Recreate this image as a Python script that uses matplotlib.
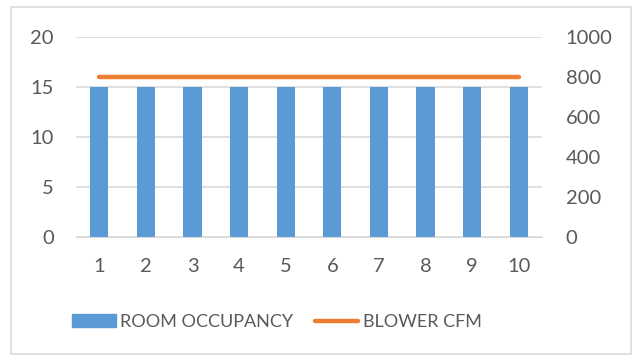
import matplotlib.pyplot as plt
from matplotlib.patches import Rectangle
from matplotlib.lines import Line2D
from matplotlib.patches import Patch

plt.rcParams['font.family'] = ['Lato', 'DejaVu Sans']

# data
hours = [1, 2, 3, 4, 5, 6, 7, 8, 9, 10]
occupancy = [15, 15, 15, 15, 15, 15, 15, 15, 15, 15]
blower_cfm = [800, 800, 800, 800, 800, 800, 800, 800, 800, 800]
left_ticks = [0, 5, 10, 15, 20]
right_ticks = [0, 200, 400, 600, 800, 1000]

blue = '#5b9bd5'
orange = '#ed7d31'
txt = '#595959'
grid = '#d9d9d9'

fig = plt.figure(figsize=(6.37, 3.58), dpi=100)
ax = fig.add_axes([76 / 637, 1 - 237 / 358, 466 / 637, 200 / 358])
ax2 = ax.twinx()

x = list(range(len(hours)))
ax.bar(x, occupancy, width=0.39, color=blue, zorder=2)
ax2.plot(x, blower_cfm, color=orange, lw=3.2, solid_capstyle='round', zorder=3)

ax.set_xlim(-0.5, len(hours) - 0.5)
ax.set_ylim(0, 20)
ax2.set_ylim(0, 1000)
ax.set_yticks(left_ticks)
ax2.set_yticks(right_ticks)
ax.set_xticks(x)
ax.set_xticklabels([str(h) for h in hours])

for a in (ax, ax2):
    for s in a.spines.values():
        s.set_visible(False)
    a.tick_params(length=0, labelsize=14.5, colors=txt)
ax.spines['bottom'].set_visible(True)
ax.spines['bottom'].set_color(grid)
ax.tick_params(axis='y', pad=16)
ax.tick_params(axis='x', pad=15)
ax2.tick_params(axis='y', pad=17)
ax.yaxis.grid(True, color=grid, lw=1.2, zorder=0)
ax.set_axisbelow(True)
ax.set_zorder(ax2.get_zorder() - 1)
ax.patch.set_visible(False)

handles = [Patch(color=blue), Line2D([0], [0], color=orange, lw=3.2, solid_capstyle='round')]
fig.legend(handles, ['ROOM OCCUPANCY', 'BLOWER CFM'], loc='center left', bbox_to_anchor=(56 / 637, 1 - 322 / 358),
           ncol=2, frameon=False, fontsize=13, labelcolor=txt, handlelength=2.4, handletextpad=0.25,
           columnspacing=1.2)

fig.patches.append(Rectangle((11 / 637, 4 / 358), 620 / 637, 347 / 358, transform=fig.transFigure,
                             fill=False, edgecolor='#d9d9d9', lw=1.2))

fig.savefig('out.png', dpi=100)
